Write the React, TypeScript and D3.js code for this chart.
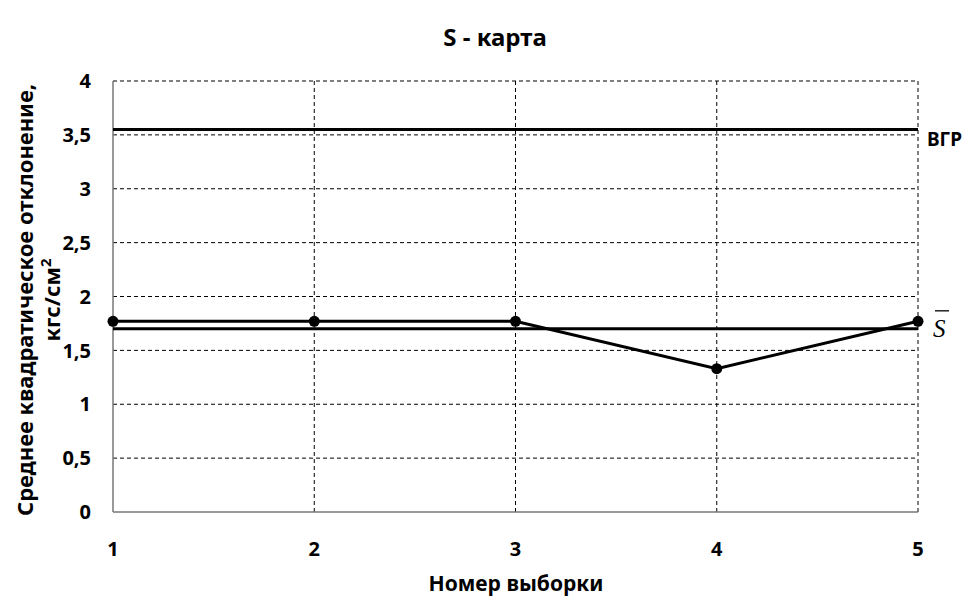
import * as d3 from "d3";

// sample numbers and their standard deviation
const samples = [1, 2, 3, 4, 5];
const sValues = [1.77, 1.77, 1.77, 1.33, 1.77];
const ucl = 3.55;
const sMean = 1.7;
const yTicks = [0, 0.5, 1, 1.5, 2, 2.5, 3, 3.5, 4];

const W = 968;
const H = 599;
const margin = { left: 113, right: 50, top: 81, bottom: 87 };
const font = "'Noto Sans', 'Open Sans', sans-serif";

export default function App() {
  const x = d3
    .scaleLinear()
    .domain([1, 5])
    .range([margin.left, W - margin.right]);
  const y = d3
    .scaleLinear()
    .domain([0, 4])
    .range([H - margin.bottom, margin.top]);

  const line = d3
    .line<number>()
    .x((_, i) => x(samples[i]))
    .y((d) => y(d));

  const fmt = (v: number) => String(v).replace(".", ",");

  return (
    <svg
      width={W}
      height={H}
      style={{ position: "absolute", left: 0, top: 0 }}
      fontFamily={font}
    >
      <rect width={W} height={H} fill="#fff" />
      {/* horizontal grid */}
      {yTicks
        .filter((t) => t > 0)
        .map((t) => (
          <line
            key={"h" + t}
            x1={x(1)}
            x2={x(5)}
            y1={y(t)}
            y2={y(t)}
            stroke="#000"
            strokeWidth={1}
            strokeDasharray="4,3"
          />
        ))}
      {/* vertical grid */}
      {samples.slice(1).map((s) => (
        <line
          key={"v" + s}
          x1={x(s)}
          x2={x(s)}
          y1={y(4)}
          y2={y(0)}
          stroke="#000"
          strokeWidth={1}
          strokeDasharray="4,3"
        />
      ))}
      {/* axes */}
      <line x1={x(1)} x2={x(1)} y1={y(4)} y2={y(0)} stroke="#777" strokeWidth={1.5} />
      <line x1={x(1)} x2={x(5)} y1={y(0)} y2={y(0)} stroke="#777" strokeWidth={1.5} />

      {yTicks.map((t) => (
        <text
          key={"yl" + t}
          x={91}
          y={y(t)}
          dy="0.36em"
          textAnchor="end"
          fontSize={20}
          fontWeight={700}
        >
          {fmt(t)}
        </text>
      ))}
      {samples.map((s) => (
        <text
          key={"xl" + s}
          x={x(s)}
          y={556}
          textAnchor="middle"
          fontSize={20}
          fontWeight={700}
        >
          {s}
        </text>
      ))}

      {/* control lines */}
      <line x1={x(1)} x2={x(5)} y1={y(ucl)} y2={y(ucl)} stroke="#000" strokeWidth={3} />
      <line x1={x(1)} x2={x(5)} y1={y(sMean)} y2={y(sMean)} stroke="#000" strokeWidth={3} />

      {/* data */}
      <path d={line(sValues) ?? ""} fill="none" stroke="#000" strokeWidth={3} />
      {sValues.map((v, i) => (
        <circle key={"p" + i} cx={x(samples[i])} cy={y(v)} r={5.5} fill="#000" />
      ))}

      <text x={927} y={y(ucl) + 17} fontSize={19} fontWeight={700}>
        ВГР
      </text>
      <text
        x={933}
        y={y(sMean) + 8}
        fontSize={25}
        fontStyle="italic"
        fontFamily="'Liberation Serif', 'DejaVu Serif', serif"
      >
        S
      </text>
      <line x1={935} x2={949} y1={y(sMean) - 18} y2={y(sMean) - 18} stroke="#000" strokeWidth={1.3} />

      <text
        x={495}
        y={46}
        textAnchor="middle"
        fontSize={24}
        fontWeight={700}
      >
        S - карта
      </text>
      <text
        x={516}
        y={591}
        textAnchor="middle"
        fontSize={21}
        fontWeight={700}
      >
        Номер выборки
      </text>
      <g transform="translate(33, 300) rotate(-90)">
        <text textAnchor="middle" fontSize={22} fontWeight={700}>
          Среднее квадратическое отклонение,
        </text>
        <text y={27} textAnchor="middle" fontSize={22} fontWeight={700}>
          кгс/см
          <tspan dy={-9} fontSize={15}>
            2
          </tspan>
        </text>
      </g>
    </svg>
  );
}
